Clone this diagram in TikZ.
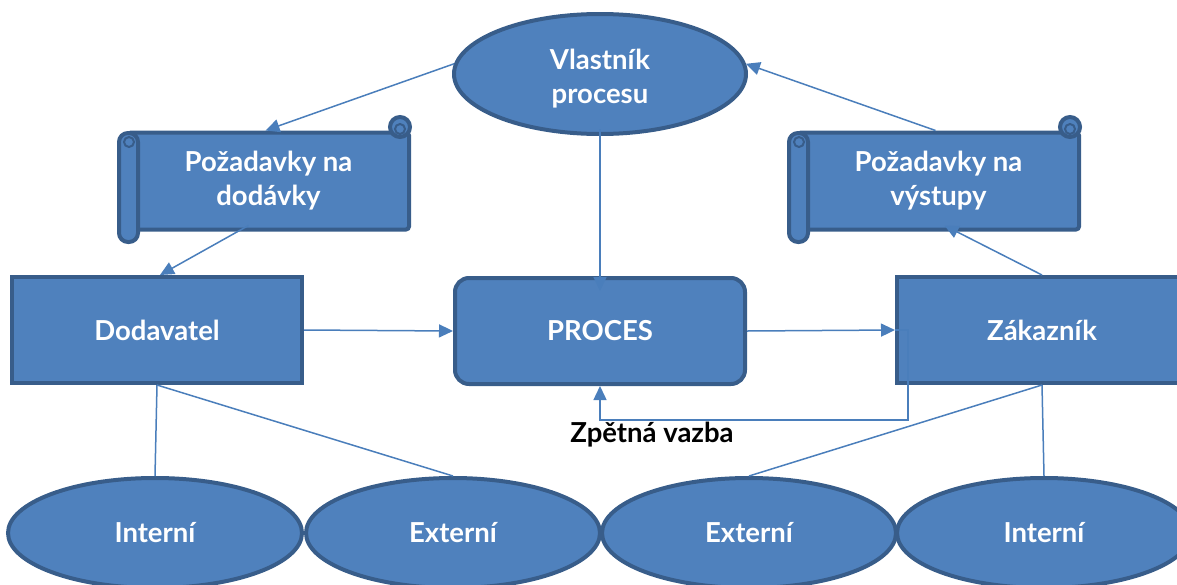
\documentclass[tikz,border=0pt]{standalone}
\usepackage{fontspec}
\setmainfont{Lato}
\usetikzlibrary{shapes.geometric,arrows.meta,calc}
\definecolor{fillb}{HTML}{4F81BD}
\definecolor{edgeb}{HTML}{385D8A}
\definecolor{linkb}{HTML}{4A7EBB}
\newcommand\lbl{\fontsize{27.5}{34}\selectfont\bfseries}
\begin{document}
\begin{tikzpicture}[x=1pt,y=-1pt,
  shp/.style={draw=edgeb,fill=fillb,line width=4pt},
  box/.style={shp,rectangle,minimum width=290pt,minimum height=106pt,text=white,font=\lbl,align=center,inner sep=0pt},
  rbox/.style={box,rounded corners=14pt},
  oval/.style={shp,ellipse,minimum width=292pt,minimum height=120pt,text=white,font=\lbl,align=center,inner sep=0pt},
  lowoval/.style={oval,minimum width=294pt,minimum height=110pt},
  sbody/.style={shp,rectangle,rounded corners=3pt,minimum width=281pt,minimum height=97pt,text=white,font=\lbl,align=center,inner sep=0pt},
  conn/.style={draw=linkb,line width=1.5pt},
  arr/.style={conn,-{Triangle[length=14pt,width=13pt]},color=linkb}]
\useasboundingbox (0,0) rectangle (1177,584);
\clip (0,0) rectangle (1177,584);

% main shapes
\node[oval] (v) at (600,74) {\raisebox{-6pt}[\height][\depth]{\begin{tabular}{@{}c@{}}Vlastník\\procesu\end{tabular}}};
\node[box] (d) at (157,330) {Dodavatel};
\node[rbox] (p) at (600,331) {PROCES};
\node[box] (z) at (1042,330) {Zákazník};
\node[lowoval] (il) at (155,533) {Interní};
\node[lowoval] (el) at (453,533) {Externí};
\node[lowoval] (er) at (749,533) {Externí};
\node[lowoval] (ir) at (1044,533) {Interní};

% left scroll
\node[sbody] (ls) at (268.5,181) {Požadavky na\\dodávky};
\draw[shp,rounded corners=9pt] (119,133) rectangle (138,242);
\draw[edgeb,line width=2pt] (129,142) circle (5);
\draw[shp] (400,127) circle (10);
\draw[edgeb,line width=2pt] (400,129) circle (5);

% right scroll
\begin{scope}[xshift=670pt]
\node[sbody] (rs) at (268.5,181) {Požadavky na\\výstupy};
\draw[shp,rounded corners=9pt] (119,133) rectangle (138,242);
\draw[edgeb,line width=2pt] (129,142) circle (5);
\draw[shp] (400,127) circle (10);
\draw[edgeb,line width=2pt] (400,129) circle (5);
\end{scope}

% connectors
\draw[arr] (v.176) -- ($(ls.north)+(-3,0)$);
\draw[arr] ($(ls.south)+(-20,-6)$) -- ($(d.north)+(3,0)$);
\draw[arr] ($(v.south)+(0,-7)$) -- ($(p.north)+(0,15)$);
\draw[arr] (d.east) -- (p.west);
\draw[arr] (p.east) -- (z.west);
\draw[arr] (z.west) -- ++(13,0) |- ($(p.south)+(0,34)$) -- (p.south);
\draw[arr] (z.north) -- ($(rs.south)+(6,-6)$);
\draw[arr] ($(rs.north)+(-3,0)$) -- (v.4);
\draw[conn] (d.south) -- (il.north);
\draw[conn] (d.south) -- (el.north);
\draw[conn] (z.south) -- (er.north);
\draw[conn] (z.south) -- (ir.north);

\node[font=\lbl,text=black] (fb) at (652,435) {Zpětná vazba};
\end{tikzpicture}
\end{document}
